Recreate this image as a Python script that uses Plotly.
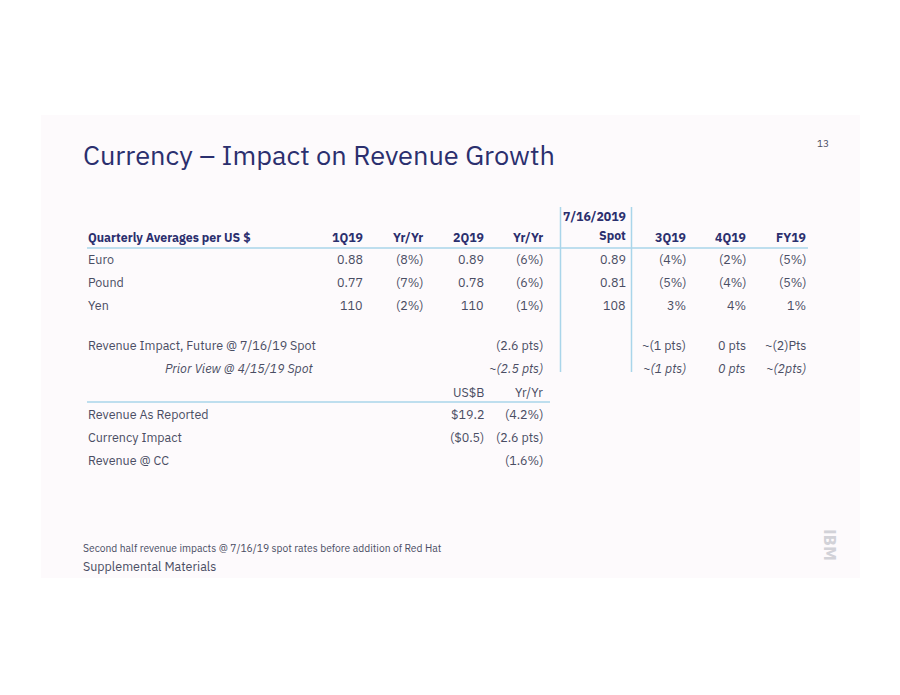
import plotly.graph_objects as go

# ---------------- data ----------------
title = "Currency – Impact on Revenue Growth"
page_no = "13"
row_header = "Quarterly Averages per US $"
col_headers = ["1Q19", "Yr/Yr", "2Q19", "Yr/Yr", "7/16/2019<br>Spot", "3Q19", "4Q19", "FY19"]
currencies = ["Euro", "Pound", "Yen"]
q1 = ["0.88", "0.77", "110"]
q1_yy = ["(8%)", "(7%)", "(2%)"]
q2 = ["0.89", "0.78", "110"]
q2_yy = ["(6%)", "(6%)", "(1%)"]
spot = ["0.89", "0.81", "108"]
q3_yy = ["(4%)", "(5%)", "3%"]
q4_yy = ["(2%)", "(4%)", "4%"]
fy_yy = ["(5%)", "(5%)", "1%"]

impact_labels = ["Revenue Impact, Future @ 7/16/19 Spot", "Prior View @ 4/15/19 Spot"]
impact_2q = ["(2.6 pts)", "~(2.5 pts)"]
impact_3q = ["~(1 pts)", "~(1 pts)"]
impact_4q = ["0 pts", "0 pts"]
impact_fy = ["~(2)Pts", "~(2pts)"]

rev_headers = ["US$B", "Yr/Yr"]
rev_labels = ["Revenue As Reported", "Currency Impact", "Revenue @ CC"]
rev_usd = ["$19.2", "($0.5)", ""]
rev_yy = ["(4.2%)", "(2.6 pts)", "(1.6%)"]

footnote = "Second half revenue impacts @ 7/16/19 spot rates before addition of Red Hat"
footer = "Supplemental Materials"

# ---------------- layout constants ----------------
FONT = "IBM Plex Sans, Roboto, Noto Sans, sans-serif"
NAVY = "#2b2f6e"
TEXT = "#4a4d63"
LINE = "#a9d5ea"
col_x = [365, 425, 486, 545, 628, 688, 748, 808]   # right edges of columns
label_x = 86
row_y = [259, 282, 305]
head_y = 237
impact_y = [345, 368]
rev_head_y = 392
rev_y = [414, 437, 460]
OFF = 8  # page body margin

fig = go.Figure()
fig.add_trace(go.Scatter(x=[OFF, 900], y=[OFF, 695], mode="markers",
                         marker=dict(opacity=0), hoverinfo="skip", showlegend=False))

ann = []
def t(x, y, s, anchor="right", size=12.5, color=TEXT, bold=False, italic=False, family=FONT):
    if bold:
        s = "<b>" + s + "</b>"
    if italic:
        s = "<i>" + s + "</i>"
    ann.append(dict(x=x, y=y, xref="x", yref="y", text=s, showarrow=False,
                    xanchor=anchor, yanchor="middle",
                    font=dict(family=family, size=size, color=color)))

# title & page number
t(81, 154, title, anchor="left", size=27.2, color=NAVY)
t(831, 143, page_no, anchor="right", size=10, color=TEXT)

# header
t(label_x, head_y, row_header, anchor="left", size=12.3, color=NAVY, bold=True)
for i, h in enumerate(col_headers):
    if "<br>" in h:
        top, bot = h.split("<br>")
        t(col_x[i], 216, top, size=12.3, color=NAVY, bold=True)
        t(col_x[i], head_y - 2, bot, size=12.3, color=NAVY, bold=True)
    else:
        t(col_x[i], head_y, h, size=12.3, color=NAVY, bold=True)

cols = [q1, q1_yy, q2, q2_yy, spot, q3_yy, q4_yy, fy_yy]
for r, name in enumerate(currencies):
    t(label_x, row_y[r], name, anchor="left")
    for c, vals in enumerate(cols):
        t(col_x[c], row_y[r], vals[r])

# impact rows
for r, lab in enumerate(impact_labels):
    it = (r == 1)
    t(label_x if r == 0 else 163, impact_y[r], lab, anchor="left", italic=it)
    t(col_x[3], impact_y[r], impact_2q[r], italic=it)
    t(col_x[5], impact_y[r], impact_3q[r], italic=it)
    t(col_x[6], impact_y[r], impact_4q[r], italic=it)
    t(col_x[7], impact_y[r], impact_fy[r], italic=it)

# revenue table
t(col_x[2], rev_head_y, rev_headers[0])
t(col_x[3], rev_head_y, rev_headers[1])
for r, lab in enumerate(rev_labels):
    t(label_x, rev_y[r], lab, anchor="left")
    if rev_usd[r]:
        t(col_x[2], rev_y[r], rev_usd[r])
    t(col_x[3], rev_y[r], rev_yy[r])

# footer
t(81, 548, footnote, anchor="left", size=10.3, color=TEXT)
t(81, 566, footer, anchor="left", size=12.5, color=TEXT)

# IBM logo (approximation)
ann.append(dict(x=829, y=545, xref="x", yref="y", text="<b>IBM</b>", showarrow=False,
                textangle=90, font=dict(family="DejaVu Sans", size=15, color="#d2d2d8")))

shapes = [
    dict(type="rect", xref="x", yref="y", x0=41, x1=860, y0=115, y1=578,
         fillcolor="#fdfafc", line=dict(width=0), layer="below"),
    dict(type="line", xref="x", yref="y", x0=87, x1=808, y0=248, y1=248,
         line=dict(color=LINE, width=1.5)),
    dict(type="line", xref="x", yref="y", x0=87, x1=550, y0=402, y1=402,
         line=dict(color=LINE, width=1.5)),
    dict(type="line", xref="x", yref="y", x0=560.5, x1=560.5, y0=207, y1=372,
         line=dict(color=LINE, width=1.5)),
    dict(type="line", xref="x", yref="y", x0=631.5, x1=631.5, y0=207, y1=372,
         line=dict(color=LINE, width=1.5)),
]

fig.update_layout(
    width=900, height=695, margin=dict(l=0, r=0, t=0, b=0),
    paper_bgcolor="white", plot_bgcolor="white",
    xaxis=dict(range=[OFF, 900 + OFF], visible=False, fixedrange=True),
    yaxis=dict(range=[695 + OFF, OFF], visible=False, fixedrange=True),
    annotations=ann, shapes=shapes, showlegend=False,
)
fig.write_html("out.html")
